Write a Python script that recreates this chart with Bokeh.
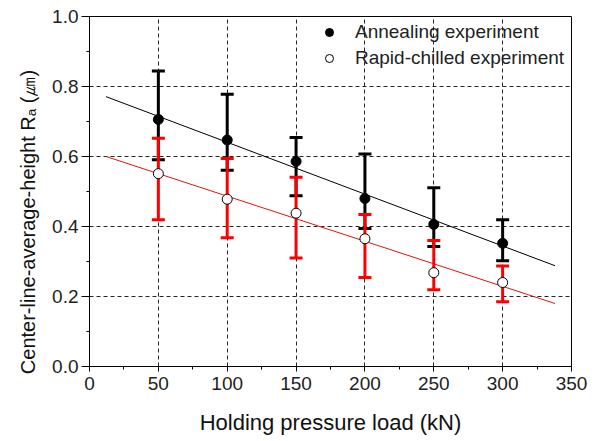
from bokeh.plotting import figure
from bokeh.models import (ColumnDataSource, Whisker, TeeHead, Legend, LegendItem,
                          FixedTicker, Range1d, CustomJSTickFormatter)
from bokeh.embed import file_html
from bokeh.resources import INLINE

# ---- data ----
load_kN = [50, 100, 150, 200, 250, 300]
anneal_ra = [0.706, 0.647, 0.586, 0.480, 0.406, 0.352]
anneal_upper = [0.844, 0.778, 0.654, 0.607, 0.511, 0.419]
anneal_lower = [0.591, 0.561, 0.488, 0.394, 0.343, 0.302]
chill_ra = [0.551, 0.478, 0.438, 0.365, 0.268, 0.240]
chill_upper = [0.652, 0.594, 0.541, 0.434, 0.360, 0.287]
chill_lower = [0.419, 0.368, 0.310, 0.254, 0.219, 0.185]
fit_x = [12, 338]
anneal_fit = [0.771, 0.288]
chill_fit = [0.600, 0.180]
x_ticks = [0, 50, 100, 150, 200, 250, 300, 350]
x_minor = [25, 75, 125, 175, 225, 275, 325]
y_ticks = [0.0, 0.2, 0.4, 0.6, 0.8, 1.0]
y_minor = [0.1, 0.3, 0.5, 0.7, 0.9]

FONT = "Liberation Sans"

p = figure(width=589, height=437, output_backend="svg", toolbar_location=None,
           x_range=Range1d(0, 350), y_range=Range1d(0, 1.0),
           min_border_left=89, min_border_right=18, min_border_top=16, min_border_bottom=65)
p.background_fill_color = "white"
p.border_fill_color = "white"
p.outline_line_color = "black"
p.outline_line_width = 1

# grid
for g in (p.xgrid, p.ygrid):
    g.grid_line_color = "black"
    g.grid_line_dash = "4 3"
    g.grid_line_width = 1
    g.grid_line_alpha = 0.85
p.xgrid.ticker = FixedTicker(ticks=[50, 100, 150, 200, 250, 300])
p.ygrid.ticker = FixedTicker(ticks=[0.2, 0.4, 0.6, 0.8])

# axes
p.xaxis.ticker = FixedTicker(ticks=x_ticks, minor_ticks=x_minor)
p.yaxis.ticker = FixedTicker(ticks=y_ticks, minor_ticks=y_minor)
p.yaxis.formatter = CustomJSTickFormatter(code="return tick.toFixed(1);")
for ax in (p.xaxis, p.yaxis):
    ax.axis_line_color = "black"
    ax.major_tick_line_color = "black"
    ax.minor_tick_line_color = "black"
    ax.major_tick_in = 0
    ax.minor_tick_in = 0
    ax.major_label_text_font = FONT
    ax.major_label_text_font_size = "19px"
    ax.major_label_text_color = "#222222"
    ax.axis_label_text_font = FONT
    ax.axis_label_text_font_style = "normal"
    ax.axis_label_text_color = "#111111"
p.xaxis.axis_label_text_font_size = "22px"
p.yaxis.axis_label_text_font_size = "20px"
p.xaxis.major_tick_out = 5
p.xaxis.minor_tick_out = 3
p.yaxis.major_tick_out = 8
p.yaxis.minor_tick_out = 3
p.xaxis.major_label_standoff = 5
p.yaxis.major_label_standoff = 3
p.xaxis.axis_label = "Holding pressure load (kN)"
# trailing no-break spaces shift the centred label toward the bottom, as in the original
p.yaxis.axis_label = "Center-line-average-height  R\u2090 (\u339b)" + "\u00a0" * 10
p.xaxis.axis_label_standoff = 17
p.yaxis.axis_label_standoff = 10

# fit lines
p.line(fit_x, anneal_fit, line_color="black", line_width=1)
p.line(fit_x, chill_fit, line_color="#dd1515", line_width=1)

# error bars
src_a = ColumnDataSource(dict(x=load_kN, y=anneal_ra, up=anneal_upper, lo=anneal_lower))
src_c = ColumnDataSource(dict(x=load_kN, y=chill_ra, up=chill_upper, lo=chill_lower))
for src, col in ((src_a, "black"), (src_c, "#ff0000")):
    w = Whisker(source=src, base="x", upper="up", lower="lo",
                line_color=col, line_width=3,
                upper_head=TeeHead(size=13, line_color=col, line_width=3),
                lower_head=TeeHead(size=13, line_color=col, line_width=3))
    p.add_layout(w)

r_a = p.scatter("x", "y", source=src_a, size=10, marker="circle",
                fill_color="black", line_color="black", line_width=1)
r_c = p.scatter("x", "y", source=src_c, size=10, marker="circle",
                fill_color="white", line_color="black", line_width=1)

legend = Legend(items=[LegendItem(label="Annealing experiment", renderers=[r_a]),
                       LegendItem(label="Rapid-chilled experiment", renderers=[r_c])],
                location=(230, 297), orientation="vertical",
                border_line_alpha=0, background_fill_alpha=0,
                padding=0, margin=0, spacing=4,
                glyph_width=20, glyph_height=20, label_height=20, label_standoff=16,
                label_text_font=FONT, label_text_font_size="19px", label_text_color="#222222")
p.add_layout(legend)

open("out.html", "w").write(file_html(p, INLINE))
